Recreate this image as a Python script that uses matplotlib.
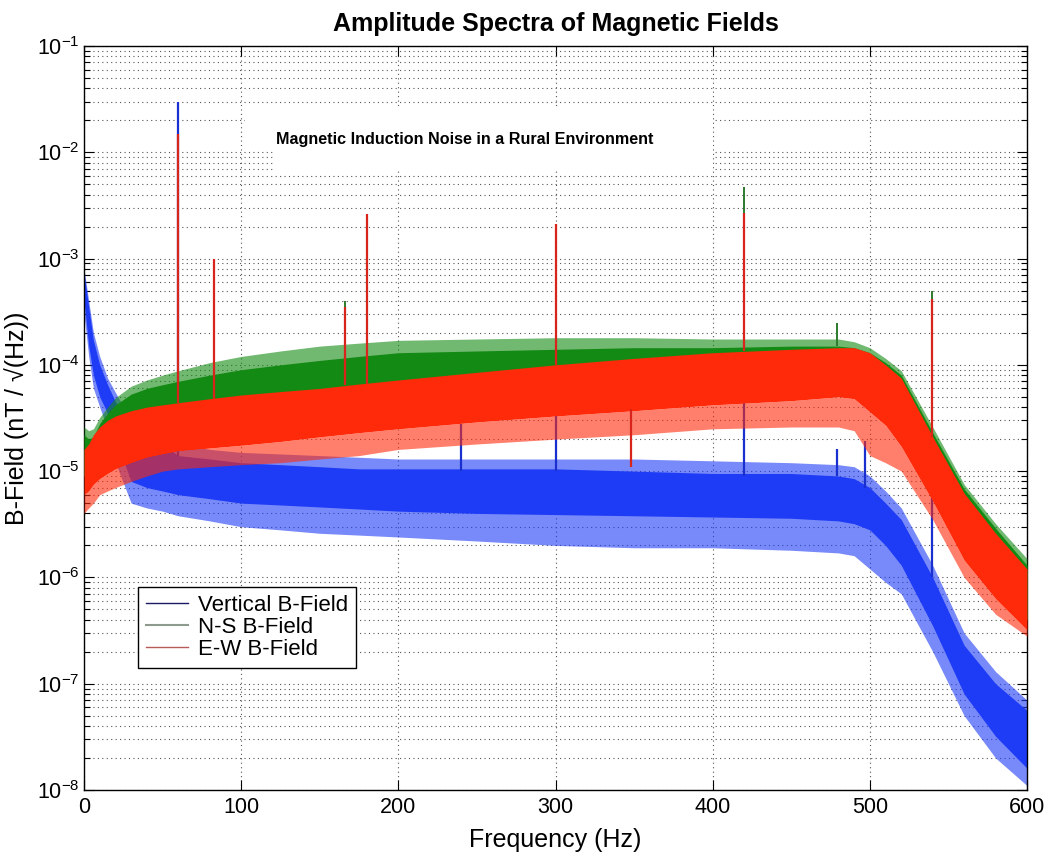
import numpy as np
import matplotlib
matplotlib.use("Agg")
import matplotlib.pyplot as plt
from matplotlib.lines import Line2D
from matplotlib.patches import Rectangle
from matplotlib.ticker import NullFormatter

plt.rcParams['font.family'] = ['Liberation Sans', 'DejaVu Sans']
plt.rcParams['mathtext.fontset'] = 'custom'
plt.rcParams['mathtext.rm'] = 'Liberation Sans'
plt.rcParams['mathtext.it'] = 'Liberation Sans:italic'
plt.rcParams['mathtext.bf'] = 'Liberation Sans:bold'

# === Data (nT/sqrt(Hz)) ===
freq = [0, 3, 6, 10, 15, 20, 30, 40, 50, 60, 80, 100, 125, 150, 175, 200,
        250, 300, 350, 400, 450, 480, 490, 500, 510, 520, 540, 560, 580, 600]

# Vertical B-field: dense band and outer noise extent
vert_hi = [7.3e-4, 3.5e-4, 1.7e-4, 1.0e-4, 6.5e-5, 4.5e-5, 2.5e-5, 2.0e-5, 1.8e-5, 1.4e-5,
           1.3e-5, 1.2e-5, 1.15e-5, 1.1e-5, 1.05e-5, 1.05e-5, 1.05e-5, 1.05e-5, 1.0e-5, 9.5e-6,
           9.5e-6, 9.0e-6, 8.5e-6, 7.0e-6, 5.0e-6, 3.5e-6, 1.0e-6, 2.3e-7, 1.0e-7, 5.6e-8]
vert_lo = [4.0e-4, 1.5e-4, 8.0e-5, 5.0e-5, 3.5e-5, 2.0e-5, 8.0e-6, 7.0e-6, 6.5e-6, 6.0e-6,
           5.5e-6, 5.0e-6, 4.8e-6, 4.6e-6, 4.4e-6, 4.2e-6, 4.0e-6, 3.9e-6, 3.8e-6, 3.7e-6,
           3.6e-6, 3.4e-6, 3.2e-6, 2.8e-6, 2.0e-6, 1.3e-6, 3.5e-7, 8.0e-8, 3.2e-8, 1.6e-8]
vert_top = [8.0e-4, 4.0e-4, 2.0e-4, 1.2e-4, 7.5e-5, 5.5e-5, 3.0e-5, 2.2e-5, 2.0e-5, 1.8e-5,
            1.6e-5, 1.5e-5, 1.45e-5, 1.4e-5, 1.35e-5, 1.3e-5, 1.3e-5, 1.3e-5, 1.3e-5, 1.25e-5,
            1.2e-5, 1.15e-5, 1.1e-5, 9.0e-6, 6.5e-6, 4.5e-6, 1.3e-6, 3.0e-7, 1.3e-7, 7.0e-8]
vert_bot = [3.0e-4, 1.2e-4, 6.0e-5, 4.0e-5, 2.5e-5, 1.2e-5, 5.0e-6, 4.5e-6, 4.2e-6, 3.8e-6,
            3.4e-6, 3.0e-6, 2.8e-6, 2.6e-6, 2.5e-6, 2.4e-6, 2.2e-6, 2.0e-6, 1.9e-6, 1.9e-6,
            1.8e-6, 1.7e-6, 1.6e-6, 1.2e-6, 9.0e-7, 7.0e-7, 2.0e-7, 5.0e-8, 2.0e-8, 1.1e-8]

# N-S B-field
ns_hi = [2.2e-5, 2.0e-5, 2.1e-5, 2.8e-5, 3.5e-5, 4.2e-5, 5.3e-5, 6.0e-5, 6.5e-5, 7.0e-5,
         8.0e-5, 9.0e-5, 1.0e-4, 1.1e-4, 1.2e-4, 1.3e-4, 1.35e-4, 1.4e-4, 1.45e-4, 1.45e-4,
         1.5e-4, 1.5e-4, 1.45e-4, 1.3e-4, 1.05e-4, 8.0e-5, 2.3e-5, 6.8e-6, 2.9e-6, 1.3e-6]
ns_lo = [9.0e-6, 9.0e-6, 1.0e-5, 1.2e-5, 1.3e-5, 1.4e-5, 1.6e-5, 1.8e-5, 2.0e-5, 2.1e-5,
         2.3e-5, 2.5e-5, 2.7e-5, 3.0e-5, 3.2e-5, 3.5e-5, 4.0e-5, 4.5e-5, 5.0e-5, 5.5e-5,
         6.0e-5, 6.5e-5, 6.0e-5, 4.5e-5, 3.2e-5, 2.2e-5, 6.5e-6, 1.8e-6, 8.0e-7, 4.0e-7]
ns_top = [2.6e-5, 2.4e-5, 2.5e-5, 3.2e-5, 4.0e-5, 4.9e-5, 6.3e-5, 7.2e-5, 8.0e-5, 8.8e-5,
          1.05e-4, 1.2e-4, 1.35e-4, 1.5e-4, 1.6e-4, 1.7e-4, 1.75e-4, 1.8e-4, 1.8e-4, 1.75e-4,
          1.75e-4, 1.75e-4, 1.65e-4, 1.45e-4, 1.15e-4, 8.8e-5, 2.6e-5, 7.5e-6, 3.2e-6, 1.5e-6]

# E-W B-field
ew_hi = [1.6e-5, 1.8e-5, 2.2e-5, 2.6e-5, 3.0e-5, 3.3e-5, 3.7e-5, 4.0e-5, 4.2e-5, 4.4e-5,
         4.8e-5, 5.2e-5, 5.6e-5, 6.0e-5, 6.6e-5, 7.2e-5, 8.5e-5, 1.0e-4, 1.15e-4, 1.3e-4,
         1.4e-4, 1.45e-4, 1.45e-4, 1.3e-4, 1.0e-4, 7.5e-5, 2.1e-5, 6.2e-6, 2.6e-6, 1.2e-6]
ew_lo = [6.0e-6, 6.5e-6, 7.5e-6, 8.5e-6, 9.5e-6, 1.05e-5, 1.2e-5, 1.35e-5, 1.45e-5, 1.55e-5,
         1.65e-5, 1.75e-5, 1.9e-5, 2.1e-5, 2.3e-5, 2.5e-5, 2.9e-5, 3.3e-5, 3.7e-5, 4.2e-5,
         4.6e-5, 5.0e-5, 4.8e-5, 3.6e-5, 2.7e-5, 1.7e-5, 5.2e-6, 1.45e-6, 6.3e-7, 3.2e-7]
ew_bot = [4.0e-6, 4.5e-6, 5.0e-6, 6.0e-6, 6.5e-6, 7.0e-6, 8.0e-6, 9.0e-6, 1.0e-5, 1.05e-5,
          1.1e-5, 1.15e-5, 1.2e-5, 1.3e-5, 1.4e-5, 1.6e-5, 1.8e-5, 2.0e-5, 2.2e-5, 2.5e-5,
          2.6e-5, 2.6e-5, 2.4e-5, 1.4e-5, 1.2e-5, 1.0e-5, 3.5e-6, 1.0e-6, 4.5e-7, 2.8e-7]

# spectral lines: frequency, bottom, top
vert_lines = [(59.8, 1.4e-5, 3.0e-2), (240, 1.0e-5, 2.8e-5), (300, 1.0e-5, 5.0e-5),
              (420, 9.0e-6, 8.0e-5), (479, 9.0e-6, 1.6e-5), (497, 7.0e-6, 1.9e-5),
              (539.5, 1.0e-6, 2.0e-5)]
ns_lines = [(59.8, 7.0e-5, 1.5e-2), (166, 1.2e-4, 4.0e-4), (420, 1.45e-4, 4.7e-3),
            (479, 1.5e-4, 2.5e-4), (539.5, 2.3e-5, 5.0e-4)]
ew_lines = [(59.8, 4.4e-5, 1.5e-2), (82.7, 4.8e-5, 1.0e-3), (166, 6.5e-5, 3.5e-4),
            (180, 6.6e-5, 2.6e-3), (300, 1.0e-4, 2.1e-3), (420, 1.35e-4, 2.7e-3),
            (539.5, 2.1e-5, 4.2e-4), (348, 1.1e-5, 3.8e-5)]

labels = ['Vertical B-Field', 'N-S B-Field', 'E-W B-Field']
x_ticks = [0, 100, 200, 300, 400, 500, 600]
y_ticks = [1e-8, 1e-7, 1e-6, 1e-5, 1e-4, 1e-3, 1e-2, 1e-1]
blue, green, red = '#1e3cf5', '#138a13', '#ff2a0a'

# === Figure ===
fig = plt.figure(figsize=(10.5, 8.58), dpi=100)
ax = fig.add_axes([0.08, 0.0793, 0.8981, 0.8671])
ax.set_yscale('log')
ax.set_axisbelow(True)

# vertical component
ax.fill_between(freq, vert_bot, vert_top, color=blue, alpha=0.6, lw=0, zorder=2)
ax.fill_between(freq, vert_lo, vert_hi, color=blue, lw=0, zorder=2)
for f, lo, hi in vert_lines:
    ax.vlines(f, lo, hi, color='#1a2fd0', lw=1.6, zorder=2)

# N-S component
ax.fill_between(freq, ns_lo, ns_top, color=green, alpha=0.6, lw=0, zorder=3)
ax.fill_between(freq, ns_lo, ns_hi, color=green, lw=0, zorder=3)
for f, lo, hi in ns_lines:
    ax.vlines(f, lo, hi, color='#2e7a2e', lw=1.4, zorder=3)

# E-W component
ax.fill_between(freq, ew_bot, ew_lo, color=red, alpha=0.6, lw=0, zorder=4)
ax.fill_between(freq, ew_lo, ew_hi, color=red, lw=0, zorder=4)
for f, lo, hi in ew_lines:
    ax.vlines(f, lo, hi, color='#d8241a', lw=1.6, zorder=4)

# === Grid / ticks ===
ax.set_xticks(x_ticks)
ax.set_yticks(y_ticks)
ax.yaxis.set_minor_formatter(NullFormatter())
ax.set_xlim(0, 600)
ax.set_ylim(1e-8, 1e-1)
ax.grid(True, which='major', axis='x', color='#555555', lw=0.8, ls=(0, (1, 3)))
ax.grid(True, which='both', axis='y', color='#555555', lw=0.8, ls=(0, (1, 3)))
ax.tick_params(which='both', direction='in', top=True, right=True, labelsize=15.5)
ax.tick_params(axis='x', pad=5)
ax.tick_params(axis='y', pad=3)
ax.tick_params(which='major', length=7, width=0.8)
ax.tick_params(which='minor', length=4, width=0.8)
for s in ax.spines.values():
    s.set_linewidth(1.0)

# annotation box
ax.add_patch(Rectangle((102.4, 1.30e-2), 297.8, 2.61e-2 - 1.30e-2, facecolor='white',
                       edgecolor='none', zorder=1))
ax.add_patch(Rectangle((120.3, 6.7e-3), 279.9, 1.30e-2 - 6.7e-3, facecolor='white',
                       edgecolor='none', zorder=1))
ax.text(122.2, 1.33e-2, 'Magnetic Induction Noise in a Rural Environment',
        fontsize=11.6, fontweight='bold', va='center', ha='left', zorder=5)

ax.set_title('Amplitude Spectra of Magnetic Fields', fontsize=18, fontweight='bold', pad=11)
ax.set_xlabel('Frequency (Hz)', fontsize=18, labelpad=7)
ax.set_ylabel('B-Field (nT / √(Hz))', fontsize=18, labelpad=6)

# === Legend ===
handles = [Line2D([], [], color='#1a1a66', lw=1.0),
           Line2D([], [], color='#8f9a8f', lw=1.5),
           Line2D([], [], color='#b85a5a', lw=1.0)]
leg = ax.legend(handles, labels, loc='upper left', bbox_to_anchor=(0.0573, 0.2728),
                fontsize=16, frameon=True, fancybox=False, framealpha=1,
                edgecolor='black', borderpad=0.35, labelspacing=0.05,
                handlelength=1.9, handletextpad=0.45, borderaxespad=0)
leg.get_frame().set_linewidth(1.0)
leg.set_zorder(6)

fig.savefig('out.png', dpi=100)
